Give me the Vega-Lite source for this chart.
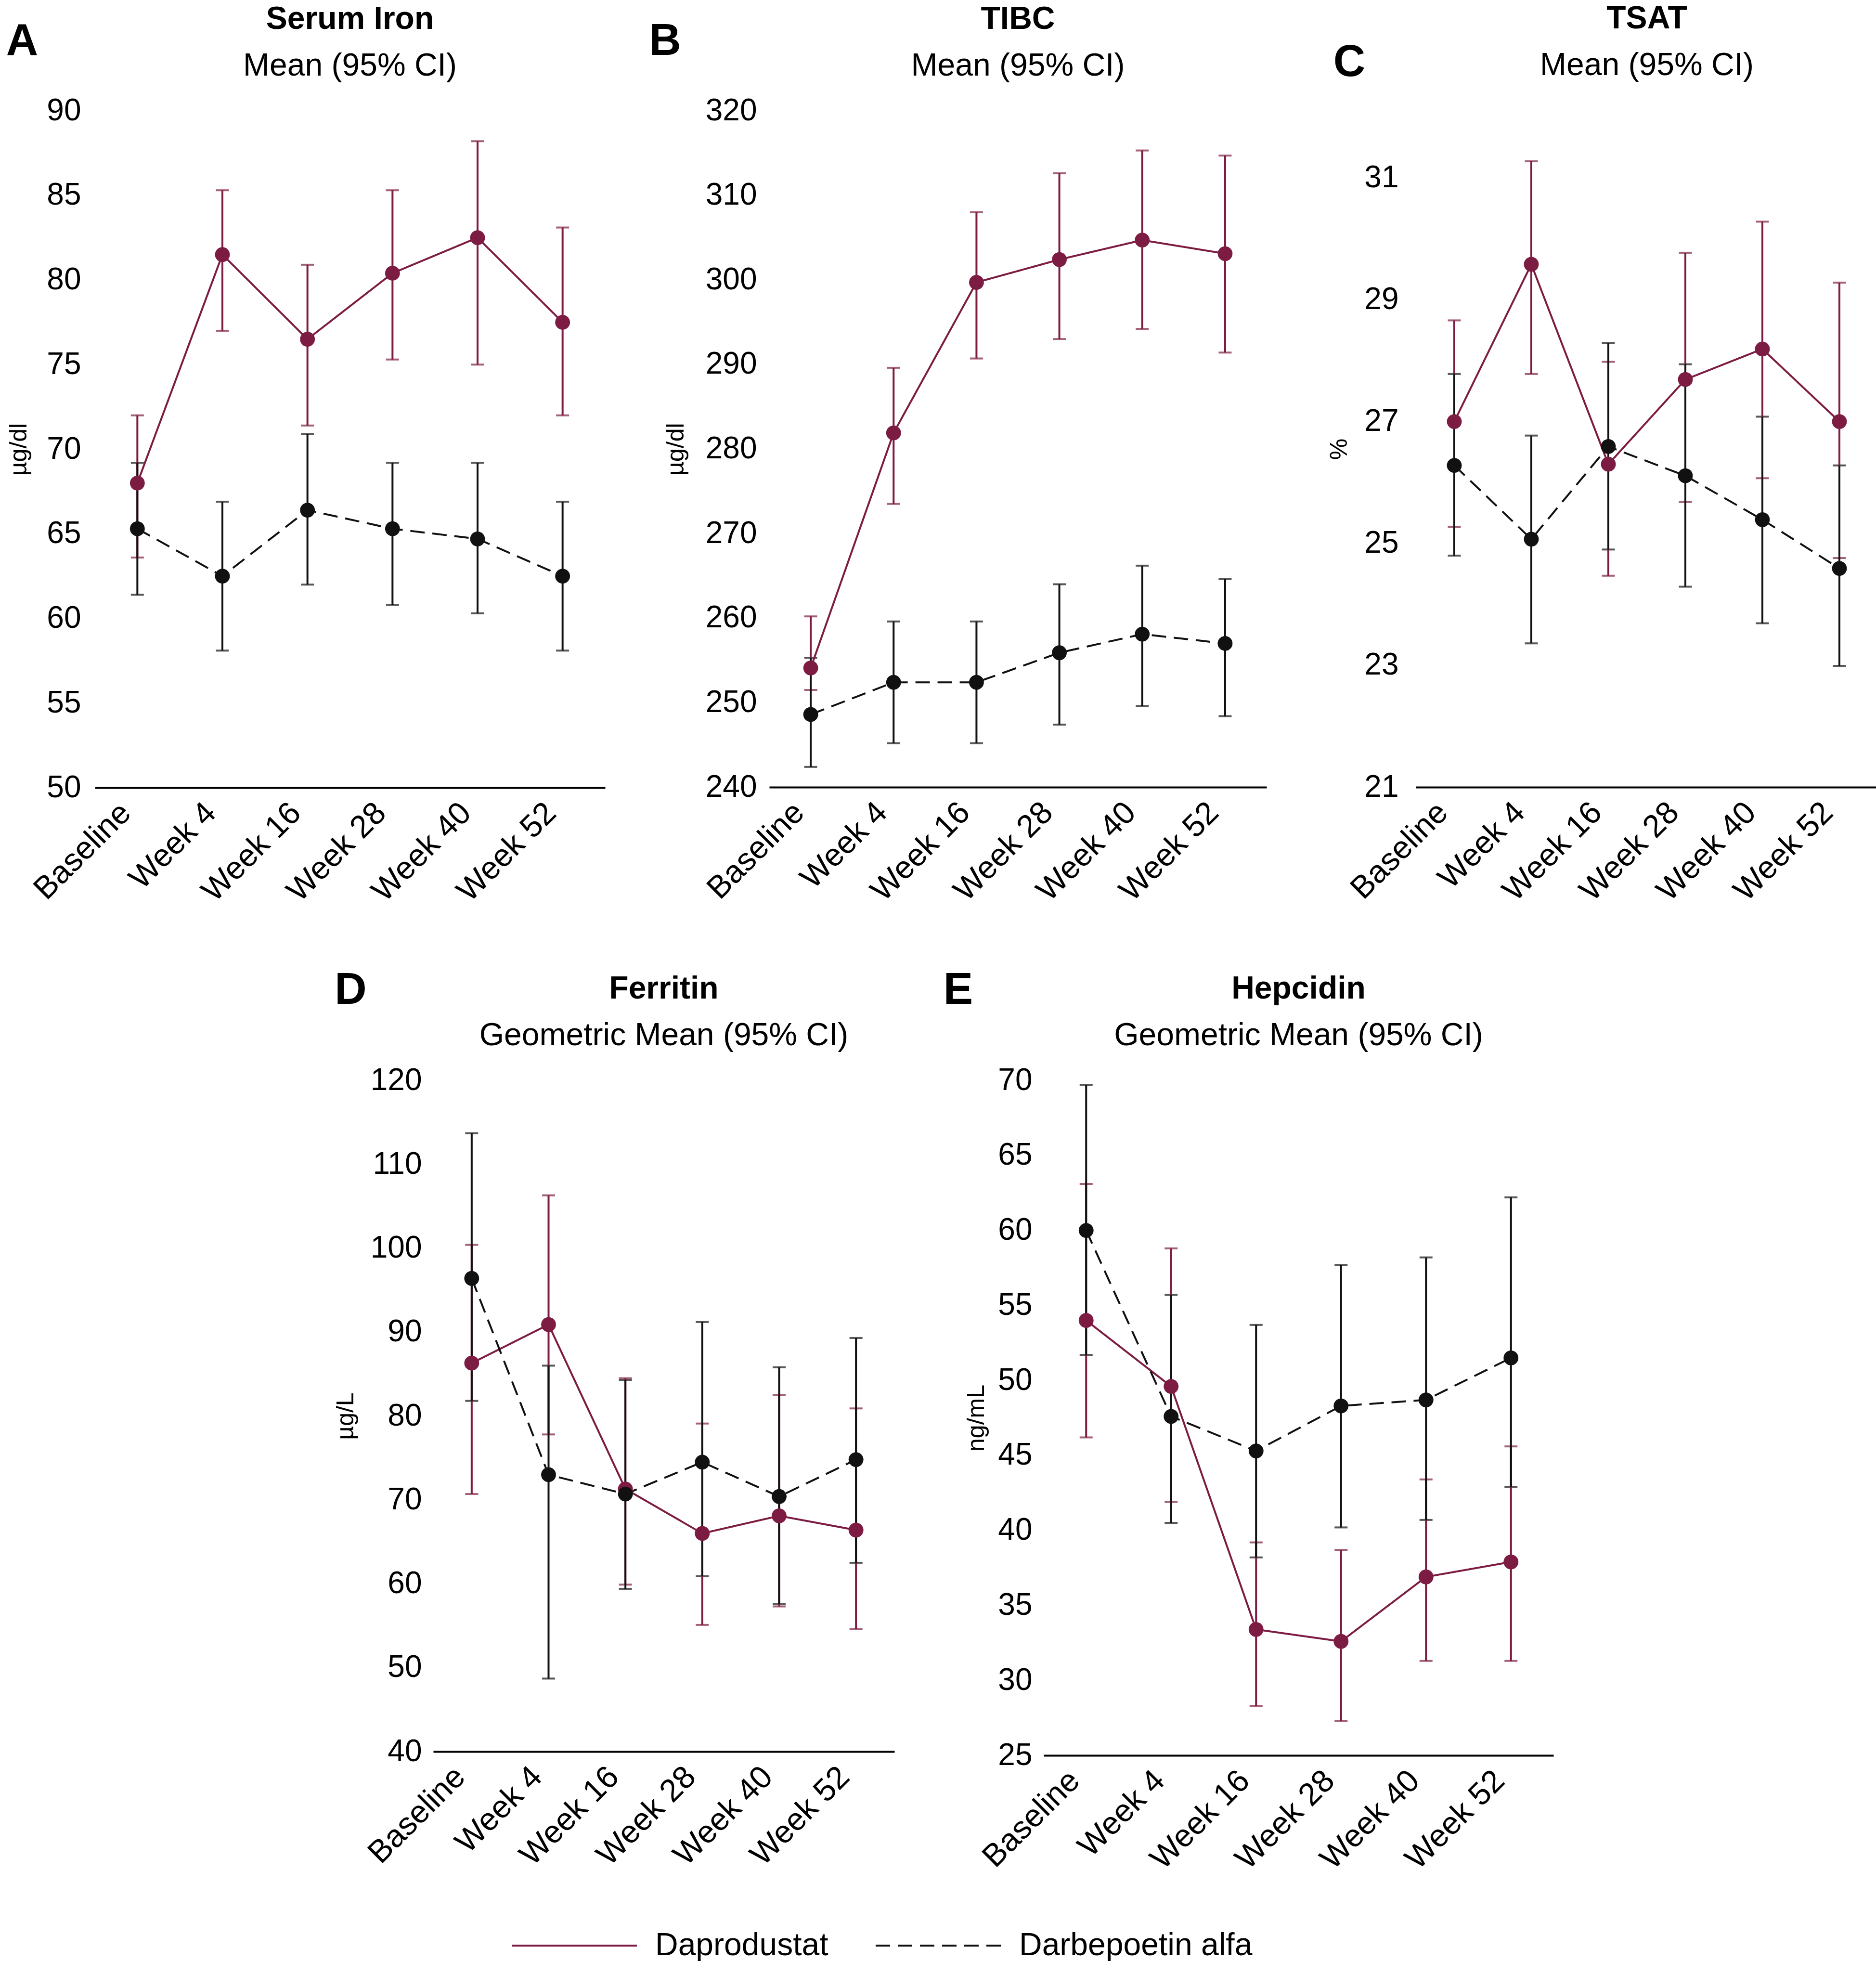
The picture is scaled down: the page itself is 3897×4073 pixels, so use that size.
{
  "$schema": "https://vega.github.io/schema/vega-lite/v6.json",
  "background": "white",
  "padding": {"left": 12, "top": 6, "right": 0, "bottom": 0},
  "autosize": {"type": "pad"},
  "data": {"values": [
    {"p":"A","v":"Baseline","g":"Daprodustat","m":68.0,"lo":63.6,"hi":72.0},
    {"p":"A","v":"Week 4","g":"Daprodustat","m":81.5,"lo":77.0,"hi":85.3},
    {"p":"A","v":"Week 16","g":"Daprodustat","m":76.5,"lo":71.4,"hi":80.9},
    {"p":"A","v":"Week 28","g":"Daprodustat","m":80.4,"lo":75.3,"hi":85.3},
    {"p":"A","v":"Week 40","g":"Daprodustat","m":82.5,"lo":75.0,"hi":88.2},
    {"p":"A","v":"Week 52","g":"Daprodustat","m":77.5,"lo":72.0,"hi":83.1},
    {"p":"A","v":"Baseline","g":"Darbepoetin alfa","m":65.3,"lo":61.4,"hi":69.2},
    {"p":"A","v":"Week 4","g":"Darbepoetin alfa","m":62.5,"lo":58.1,"hi":66.9},
    {"p":"A","v":"Week 16","g":"Darbepoetin alfa","m":66.4,"lo":62.0,"hi":70.9},
    {"p":"A","v":"Week 28","g":"Darbepoetin alfa","m":65.3,"lo":60.8,"hi":69.2},
    {"p":"A","v":"Week 40","g":"Darbepoetin alfa","m":64.7,"lo":60.3,"hi":69.2},
    {"p":"A","v":"Week 52","g":"Darbepoetin alfa","m":62.5,"lo":58.1,"hi":66.9},
    {"p":"B","v":"Baseline","g":"Daprodustat","m":254.1,"lo":251.5,"hi":260.2},
    {"p":"B","v":"Week 4","g":"Daprodustat","m":281.9,"lo":273.5,"hi":289.6},
    {"p":"B","v":"Week 16","g":"Daprodustat","m":299.7,"lo":290.7,"hi":308.0},
    {"p":"B","v":"Week 28","g":"Daprodustat","m":302.4,"lo":293.0,"hi":312.6},
    {"p":"B","v":"Week 40","g":"Daprodustat","m":304.7,"lo":294.2,"hi":315.3},
    {"p":"B","v":"Week 52","g":"Daprodustat","m":303.1,"lo":291.4,"hi":314.7},
    {"p":"B","v":"Baseline","g":"Darbepoetin alfa","m":248.6,"lo":242.4,"hi":255.3},
    {"p":"B","v":"Week 4","g":"Darbepoetin alfa","m":252.4,"lo":245.2,"hi":259.6},
    {"p":"B","v":"Week 16","g":"Darbepoetin alfa","m":252.4,"lo":245.2,"hi":259.6},
    {"p":"B","v":"Week 28","g":"Darbepoetin alfa","m":255.9,"lo":247.4,"hi":264.0},
    {"p":"B","v":"Week 40","g":"Darbepoetin alfa","m":258.1,"lo":249.6,"hi":266.2},
    {"p":"B","v":"Week 52","g":"Darbepoetin alfa","m":257.0,"lo":248.4,"hi":264.6},
    {"p":"C","v":"Baseline","g":"Daprodustat","m":27.0,"lo":25.27,"hi":28.66},
    {"p":"C","v":"Week 4","g":"Daprodustat","m":29.58,"lo":27.78,"hi":31.27},
    {"p":"C","v":"Week 16","g":"Daprodustat","m":26.3,"lo":24.47,"hi":27.98},
    {"p":"C","v":"Week 28","g":"Daprodustat","m":27.69,"lo":25.68,"hi":29.77},
    {"p":"C","v":"Week 40","g":"Daprodustat","m":28.19,"lo":26.07,"hi":30.28},
    {"p":"C","v":"Week 52","g":"Daprodustat","m":27.0,"lo":24.76,"hi":29.28},
    {"p":"C","v":"Baseline","g":"Darbepoetin alfa","m":26.28,"lo":24.8,"hi":27.78},
    {"p":"C","v":"Week 4","g":"Darbepoetin alfa","m":25.07,"lo":23.36,"hi":26.77},
    {"p":"C","v":"Week 16","g":"Darbepoetin alfa","m":26.59,"lo":24.9,"hi":28.29},
    {"p":"C","v":"Week 28","g":"Darbepoetin alfa","m":26.11,"lo":24.29,"hi":27.94},
    {"p":"C","v":"Week 40","g":"Darbepoetin alfa","m":25.39,"lo":23.69,"hi":27.08},
    {"p":"C","v":"Week 52","g":"Darbepoetin alfa","m":24.59,"lo":22.99,"hi":26.28},
    {"p":"D","v":"Baseline","g":"Daprodustat","m":86.3,"lo":70.7,"hi":100.4},
    {"p":"D","v":"Week 4","g":"Daprodustat","m":90.9,"lo":77.8,"hi":106.3},
    {"p":"D","v":"Week 16","g":"Daprodustat","m":71.3,"lo":59.9,"hi":84.5},
    {"p":"D","v":"Week 28","g":"Daprodustat","m":66.0,"lo":55.1,"hi":79.1},
    {"p":"D","v":"Week 40","g":"Daprodustat","m":68.1,"lo":57.3,"hi":82.5},
    {"p":"D","v":"Week 52","g":"Daprodustat","m":66.4,"lo":54.6,"hi":80.9},
    {"p":"D","v":"Baseline","g":"Darbepoetin alfa","m":96.4,"lo":81.8,"hi":113.7},
    {"p":"D","v":"Week 4","g":"Darbepoetin alfa","m":73.0,"lo":48.7,"hi":86.0},
    {"p":"D","v":"Week 16","g":"Darbepoetin alfa","m":70.7,"lo":59.4,"hi":84.3},
    {"p":"D","v":"Week 28","g":"Darbepoetin alfa","m":74.5,"lo":60.9,"hi":91.2},
    {"p":"D","v":"Week 40","g":"Darbepoetin alfa","m":70.4,"lo":57.6,"hi":85.8},
    {"p":"D","v":"Week 52","g":"Darbepoetin alfa","m":74.8,"lo":62.5,"hi":89.3},
    {"p":"E","v":"Baseline","g":"Daprodustat","m":54.0,"lo":46.2,"hi":63.1},
    {"p":"E","v":"Week 4","g":"Daprodustat","m":49.6,"lo":41.9,"hi":58.8},
    {"p":"E","v":"Week 16","g":"Daprodustat","m":33.4,"lo":28.3,"hi":39.2},
    {"p":"E","v":"Week 28","g":"Daprodustat","m":32.6,"lo":27.3,"hi":38.7},
    {"p":"E","v":"Week 40","g":"Daprodustat","m":36.9,"lo":31.3,"hi":43.4},
    {"p":"E","v":"Week 52","g":"Daprodustat","m":37.9,"lo":31.3,"hi":45.6},
    {"p":"E","v":"Baseline","g":"Darbepoetin alfa","m":60.0,"lo":51.7,"hi":69.7},
    {"p":"E","v":"Week 4","g":"Darbepoetin alfa","m":47.6,"lo":40.5,"hi":55.7},
    {"p":"E","v":"Week 16","g":"Darbepoetin alfa","m":45.3,"lo":38.2,"hi":53.7},
    {"p":"E","v":"Week 28","g":"Darbepoetin alfa","m":48.3,"lo":40.2,"hi":57.7},
    {"p":"E","v":"Week 40","g":"Darbepoetin alfa","m":48.7,"lo":40.7,"hi":58.2},
    {"p":"E","v":"Week 52","g":"Darbepoetin alfa","m":51.5,"lo":42.9,"hi":62.2}
  ]},
  "spacing": 126,
  "vconcat": [
    {"spacing": 0, "hconcat": [
      {"title": {"text": "A", "anchor": "start", "frame": "bounds", "fontSize": 92, "offset": -126, "dx": -2},
       "vconcat": [{
        "width": 1060, "height": 1406,
        "title": {"text": "Serum Iron", "subtitle": "Mean (95% CI)", "offset": 27},
        "transform": [{"filter": "datum.p == 'A'"}],
        "encoding": {"x": {"field": "v", "type": "nominal", "title": null, "sort": ["Baseline","Week 4","Week 16","Week 28","Week 40","Week 52"]}},
        "layer": [
          {"mark": {"type": "errorbar", "thickness": 4, "ticks": {"size": 27}},
           "encoding": {"y": {"field": "lo", "type": "quantitative", "title": "µg/dl", "scale": {"domain": [50, 90], "nice": false, "zero": false}, "axis": {"values": [50,55,60,65,70,75,80,85,90], "labelPadding": 29, "titlePadding": 32}},
                        "y2": {"field": "hi"},
                        "color": {"field": "g", "type": "nominal", "title": null, "scale": {"domain": ["Daprodustat","Darbepoetin alfa"], "range": ["#7d1c42","#111111"]}}}},
          {"mark": {"type": "line", "strokeWidth": 4},
           "encoding": {"y": {"field": "m", "type": "quantitative", "title": "µg/dl", "scale": {"domain": [50, 90], "nice": false, "zero": false}, "axis": {"values": [50,55,60,65,70,75,80,85,90], "labelPadding": 29, "titlePadding": 32}},
                        "color": {"field": "g", "type": "nominal", "title": null, "scale": {"domain": ["Daprodustat","Darbepoetin alfa"], "range": ["#7d1c42","#111111"]}},
                        "strokeDash": {"field": "g", "type": "nominal", "title": null, "scale": {"domain": ["Daprodustat","Darbepoetin alfa"], "range": [[1,0],[30,16]]},
                                       "legend": {"encode": {"symbols": {"update": {"strokeDash": {"signal": "datum.value === 'Darbepoetin alfa' ? [72, 28] : [1, 0]"}}}}}}}},
          {"mark": {"type": "point", "filled": true, "size": 950, "opacity": 1},
           "encoding": {"y": {"field": "m", "type": "quantitative", "title": "µg/dl", "scale": {"domain": [50, 90], "nice": false, "zero": false}, "axis": {"values": [50,55,60,65,70,75,80,85,90], "labelPadding": 29, "titlePadding": 32}},
                        "color": {"field": "g", "type": "nominal", "title": null, "scale": {"domain": ["Daprodustat","Darbepoetin alfa"], "range": ["#7d1c42","#111111"]}}}}
        ]
      }]},
      {"data": {"values": [{}]}, "width": 91, "height": 1, "mark": {"type": "text"}, "encoding": {"text": {"value": ""}}},
      {"title": {"text": "B", "anchor": "start", "frame": "bounds", "fontSize": 92, "offset": -126, "dx": -31},
       "vconcat": [{
        "width": 1033, "height": 1405,
        "title": {"text": "TIBC", "subtitle": "Mean (95% CI)", "offset": 27},
        "transform": [{"filter": "datum.p == 'B'"}],
        "encoding": {"x": {"field": "v", "type": "nominal", "title": null, "sort": ["Baseline","Week 4","Week 16","Week 28","Week 40","Week 52"]}},
        "layer": [
          {"mark": {"type": "errorbar", "thickness": 4, "ticks": {"size": 27}},
           "encoding": {"y": {"field": "lo", "type": "quantitative", "title": "µg/dl", "scale": {"domain": [240, 320], "nice": false, "zero": false}, "axis": {"values": [240,250,260,270,280,290,300,310,320], "labelPadding": 26, "titlePadding": 36}},
                        "y2": {"field": "hi"},
                        "color": {"field": "g", "type": "nominal", "title": null}}},
          {"mark": {"type": "line", "strokeWidth": 4},
           "encoding": {"y": {"field": "m", "type": "quantitative", "title": "µg/dl", "scale": {"domain": [240, 320], "nice": false, "zero": false}, "axis": {"values": [240,250,260,270,280,290,300,310,320], "labelPadding": 26, "titlePadding": 36}},
                        "color": {"field": "g", "type": "nominal", "title": null},
                        "strokeDash": {"field": "g", "type": "nominal", "title": null}}},
          {"mark": {"type": "point", "filled": true, "size": 950, "opacity": 1},
           "encoding": {"y": {"field": "m", "type": "quantitative", "title": "µg/dl", "scale": {"domain": [240, 320], "nice": false, "zero": false}, "axis": {"values": [240,250,260,270,280,290,300,310,320], "labelPadding": 26, "titlePadding": 36}},
                        "color": {"field": "g", "type": "nominal", "title": null}}}
        ]
      }]},
      {"data": {"values": [{}]}, "width": 126, "height": 1, "mark": {"type": "text"}, "encoding": {"text": {"value": ""}}},
      {"title": {"text": "C", "anchor": "start", "frame": "bounds", "fontSize": 92, "offset": -171, "dx": 12},
       "vconcat": [{
        "width": 960, "height": 1405,
        "title": {"text": "TSAT", "subtitle": "Mean (95% CI)", "offset": 60},
        "transform": [{"filter": "datum.p == 'C'"}],
        "encoding": {"x": {"field": "v", "type": "nominal", "title": null, "sort": ["Baseline","Week 4","Week 16","Week 28","Week 40","Week 52"]}},
        "layer": [
          {"mark": {"type": "errorbar", "thickness": 4, "ticks": {"size": 27}},
           "encoding": {"y": {"field": "lo", "type": "quantitative", "title": "%", "scale": {"domain": [21, 32.1], "nice": false, "zero": false}, "axis": {"values": [21,23,25,27,29,31], "labelPadding": 36, "titlePadding": 26}},
                        "y2": {"field": "hi"},
                        "color": {"field": "g", "type": "nominal", "title": null}}},
          {"mark": {"type": "line", "strokeWidth": 4},
           "encoding": {"y": {"field": "m", "type": "quantitative", "title": "%", "scale": {"domain": [21, 32.1], "nice": false, "zero": false}, "axis": {"values": [21,23,25,27,29,31], "labelPadding": 36, "titlePadding": 26}},
                        "color": {"field": "g", "type": "nominal", "title": null},
                        "strokeDash": {"field": "g", "type": "nominal", "title": null}}},
          {"mark": {"type": "point", "filled": true, "size": 950, "opacity": 1},
           "encoding": {"y": {"field": "m", "type": "quantitative", "title": "%", "scale": {"domain": [21, 32.1], "nice": false, "zero": false}, "axis": {"values": [21,23,25,27,29,31], "labelPadding": 36, "titlePadding": 26}},
                        "color": {"field": "g", "type": "nominal", "title": null}}}
        ]
      }]}
    ]},
    {"spacing": 0, "hconcat": [
      {"data": {"values": [{}]}, "width": 496, "height": 1, "mark": {"type": "text"}, "encoding": {"text": {"value": ""}}},
      {"title": {"text": "D", "anchor": "start", "frame": "bounds", "fontSize": 92, "offset": -83, "dx": 2},
       "vconcat": [{
        "width": 958, "height": 1394,
        "title": {"text": "Ferritin", "subtitle": "Geometric Mean (95% CI)", "offset": 27},
        "transform": [{"filter": "datum.p == 'D'"}],
        "encoding": {"x": {"field": "v", "type": "nominal", "title": null, "sort": ["Baseline","Week 4","Week 16","Week 28","Week 40","Week 52"]}},
        "layer": [
          {"mark": {"type": "errorbar", "thickness": 4, "ticks": {"size": 27}},
           "encoding": {"y": {"field": "lo", "type": "quantitative", "title": "µg/L", "scale": {"domain": [40, 120], "nice": false, "zero": false}, "axis": {"values": [40,50,60,70,80,90,100,110,120], "labelPadding": 24, "titlePadding": 26}},
                        "y2": {"field": "hi"},
                        "color": {"field": "g", "type": "nominal", "title": null}}},
          {"mark": {"type": "line", "strokeWidth": 4},
           "encoding": {"y": {"field": "m", "type": "quantitative", "title": "µg/L", "scale": {"domain": [40, 120], "nice": false, "zero": false}, "axis": {"values": [40,50,60,70,80,90,100,110,120], "labelPadding": 24, "titlePadding": 26}},
                        "color": {"field": "g", "type": "nominal", "title": null},
                        "strokeDash": {"field": "g", "type": "nominal", "title": null}}},
          {"mark": {"type": "point", "filled": true, "size": 950, "opacity": 1},
           "encoding": {"y": {"field": "m", "type": "quantitative", "title": "µg/L", "scale": {"domain": [40, 120], "nice": false, "zero": false}, "axis": {"values": [40,50,60,70,80,90,100,110,120], "labelPadding": 24, "titlePadding": 26}},
                        "color": {"field": "g", "type": "nominal", "title": null}}}
        ]
      }]},
      {"data": {"values": [{}]}, "width": 101, "height": 1, "mark": {"type": "text"}, "encoding": {"text": {"value": ""}}},
      {"title": {"text": "E", "anchor": "start", "frame": "bounds", "fontSize": 92, "offset": -83, "dx": -44},
       "vconcat": [{
        "width": 1059, "height": 1402,
        "title": {"text": "Hepcidin", "subtitle": "Geometric Mean (95% CI)", "offset": 27},
        "transform": [{"filter": "datum.p == 'E'"}],
        "encoding": {"x": {"field": "v", "type": "nominal", "title": null, "sort": ["Baseline","Week 4","Week 16","Week 28","Week 40","Week 52"]}},
        "layer": [
          {"mark": {"type": "errorbar", "thickness": 4, "ticks": {"size": 27}},
           "encoding": {"y": {"field": "lo", "type": "quantitative", "title": "ng/mL", "scale": {"domain": [25, 70], "nice": false, "zero": false}, "axis": {"values": [25,30,35,40,45,50,55,60,65,70], "labelPadding": 24, "titlePadding": 19}},
                        "y2": {"field": "hi"},
                        "color": {"field": "g", "type": "nominal", "title": null}}},
          {"mark": {"type": "line", "strokeWidth": 4},
           "encoding": {"y": {"field": "m", "type": "quantitative", "title": "ng/mL", "scale": {"domain": [25, 70], "nice": false, "zero": false}, "axis": {"values": [25,30,35,40,45,50,55,60,65,70], "labelPadding": 24, "titlePadding": 19}},
                        "color": {"field": "g", "type": "nominal", "title": null},
                        "strokeDash": {"field": "g", "type": "nominal", "title": null}}},
          {"mark": {"type": "point", "filled": true, "size": 950, "opacity": 1},
           "encoding": {"y": {"field": "m", "type": "quantitative", "title": "ng/mL", "scale": {"domain": [25, 70], "nice": false, "zero": false}, "axis": {"values": [25,30,35,40,45,50,55,60,65,70], "labelPadding": 24, "titlePadding": 19}},
                        "color": {"field": "g", "type": "nominal", "title": null}}}
        ]
      }]}
    ]}
  ],
  "config": {
    "view": {"stroke": null},
    "font": "Liberation Sans",
    "axis": {"labelFont": "Liberation Sans", "labelFontSize": 64, "labelColor": "#000000", "titleFont": "Liberation Sans", "titleFontSize": 50, "titleFontWeight": "normal", "titleColor": "#000000", "grid": false, "ticks": false, "tickSize": 0, "labelOverlap": false, "labelBound": false, "labelFlush": false, "labelLimit": 1000},
    "axisY": {"domain": false},
    "axisX": {"domain": true, "domainColor": "#000000", "domainWidth": 4, "labelAngle": -45, "labelAlign": "right", "labelBaseline": "middle", "labelPadding": 42, "labelOffset": -24, "labelFontSize": 66, "labelLimit": 1000},
    "title": {"font": "Liberation Sans", "fontSize": 66, "fontWeight": "bold", "color": "#000000", "anchor": "middle", "frame": "group", "subtitleFont": "Liberation Sans", "subtitleFontSize": 66, "subtitleColor": "#000000", "subtitlePadding": 31},
    "legend": {"orient": "none", "legendX": 864, "legendY": 3679, "direction": "horizontal", "symbolType": "stroke", "symbolSize": 67600, "symbolStrokeWidth": 4, "labelFont": "Liberation Sans", "labelFontSize": 66, "labelColor": "#000000", "labelOffset": 36, "columnPadding": 90, "padding": 0, "labelLimit": 1000}
  }
}
